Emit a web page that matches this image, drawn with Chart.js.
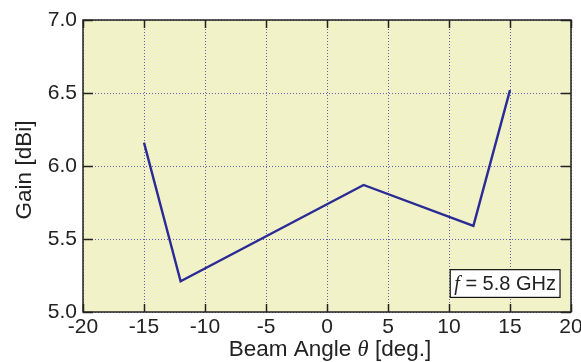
<!DOCTYPE html>
<html>
<head>
<meta charset="utf-8">
<script src="https://cdn.jsdelivr.net/npm/chart.js@4/dist/chart.umd.min.js"></script>
<style>
html,body{margin:0;padding:0;background:#fff;}
canvas{display:block;}
</style>
</head>
<body>
<canvas id="c" width="581" height="362"></canvas>
<script>
const beamAngles = [-15, -12, 3, 12, 15];
const gainValues = [6.16, 5.21, 5.87, 5.59, 6.52];
const xTickValues = [-20, -15, -10, -5, 0, 5, 10, 15, 20];
const yTickValues = [5.0, 5.5, 6.0, 6.5, 7.0];
const xTitleParts = [["Beam Angle ", false], ["θ", true], [" [deg.]", false]];
const yTitle = "Gain [dBi]";
const noteParts = [["f", true], [" = 5.8 GHz", false]];

const FONT = '"Liberation Sans", Arial, Helvetica, sans-serif';
const FS = 21;
const TFS = 22.5;
const GRID = 'rgba(70,70,170,0.85)';

function drawParts(ctx, parts, cx, cy, size) {
  let total = 0;
  const fontOf = it => (it ? 'italic ' : '') + size + 'px ' + (it ? '"Liberation Serif", "Times New Roman", serif' : FONT);
  const widths = parts.map(([t, it]) => {
    ctx.font = fontOf(it);
    const w = ctx.measureText(t).width; total += w; return w;
  });
  let x = cx - total / 2;
  parts.forEach(([t, it], i) => {
    ctx.font = fontOf(it);
    ctx.fillText(t, x, cy);
    x += widths[i];
  });
  return total;
}

const framePlugin = {
  id: 'frame',
  beforeDraw(chart) {
    const {ctx, chartArea: a} = chart;
    ctx.save();
    ctx.fillStyle = '#f2f2c9';
    ctx.fillRect(a.left, a.top, a.right - a.left, a.bottom - a.top);
    ctx.restore();
  },
  afterDraw(chart) {
    const {ctx, chartArea: a, scales} = chart;
    const xs = scales.x, ys = scales.y;
    ctx.save();
    ctx.strokeStyle = '#222';
    ctx.lineWidth = 1.5;
    ctx.strokeRect(a.left, a.top, a.right - a.left, a.bottom - a.top);
    ctx.beginPath();
    xTickValues.forEach(v => {
      const px = Math.round(xs.getPixelForValue(v)) + 0.5;
      ctx.moveTo(px, a.bottom); ctx.lineTo(px, a.bottom - 8);
      ctx.moveTo(px, a.top); ctx.lineTo(px, a.top + 8);
    });
    yTickValues.forEach(v => {
      const py = Math.round(ys.getPixelForValue(v)) + 0.5;
      ctx.moveTo(a.left, py); ctx.lineTo(a.left + 10, py);
      ctx.moveTo(a.right, py); ctx.lineTo(a.right - 10, py);
    });
    ctx.stroke();

    // annotation box
    const bx0 = xs.getPixelForValue(10.1), bx1 = xs.getPixelForValue(19.1);
    const by0 = ys.getPixelForValue(5.29), by1 = ys.getPixelForValue(5.10);
    ctx.fillStyle = '#fff';
    ctx.fillRect(bx0, by0, bx1 - bx0, by1 - by0);
    ctx.strokeStyle = '#111';
    ctx.lineWidth = 1.2;
    ctx.strokeRect(bx0, by0, bx1 - bx0, by1 - by0);
    ctx.fillStyle = '#222';
    ctx.textBaseline = 'middle';
    drawParts(ctx, noteParts, (bx0 + bx1) / 2, (by0 + by1) / 2 + 1, 20);

    // x title
    drawParts(ctx, xTitleParts, (a.left + a.right) / 2 + 3, 350, TFS);

    // y title
    ctx.translate(25, (a.top + a.bottom) / 2 + 4);
    ctx.rotate(-Math.PI / 2);
    ctx.font = TFS + 'px ' + FONT;
    ctx.textAlign = 'center';
    ctx.fillText(yTitle, 0, 0);
    ctx.restore();
  }
};

new Chart(document.getElementById('c'), {
  type: 'scatter',
  data: {
    datasets: [{
      data: beamAngles.map((x, i) => ({x, y: gainValues[i]})),
      showLine: true,
      borderColor: '#2b2b95',
      borderWidth: 2.4,
      pointRadius: 0,
      fill: false,
      tension: 0
    }]
  },
  options: {
    responsive: false,
    animation: false,
    devicePixelRatio: 1,
    layout: {padding: {left: 0, right: 0, top: 20, bottom: 0}},
    plugins: {legend: {display: false}, tooltip: {enabled: false}},
    scales: {
      x: {
        type: 'linear', min: -20, max: 20,
        afterBuildTicks: s => { s.ticks = xTickValues.map(v => ({value: v})); },
        afterFit: s => { s.height = 50; s.paddingRight = 10; s.paddingLeft = 0; },
        grid: {color: GRID, lineWidth: 1, drawTicks: false},
        border: {display: false, dash: [1, 2]},
        ticks: {color: '#222', font: {family: FONT, size: FS}, padding: 3, maxRotation: 0, autoSkip: false,
                callback: v => String(v)}
      },
      y: {
        type: 'linear', min: 5, max: 7,
        afterBuildTicks: s => { s.ticks = yTickValues.map(v => ({value: v})); },
        afterFit: s => { s.width = 83; },
        grid: {color: GRID, lineWidth: 1, drawTicks: false},
        border: {display: false, dash: [1, 2]},
        ticks: {color: '#222', font: {family: FONT, size: FS}, padding: 6,
                callback: v => Number(v).toFixed(1)}
      }
    }
  },
  plugins: [framePlugin]
});
</script>
</body>
</html>
